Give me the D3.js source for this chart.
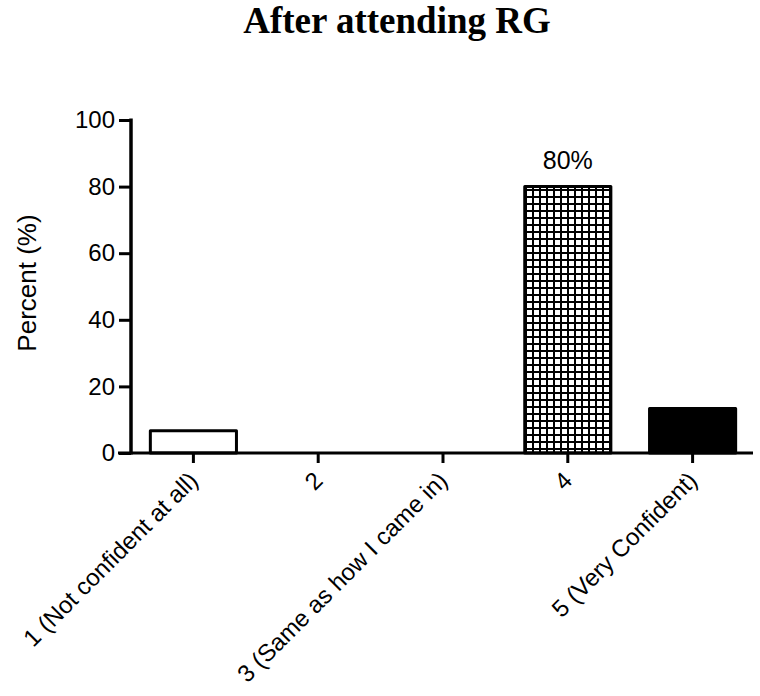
<!DOCTYPE html>
<html><head><meta charset="utf-8">
<script src="https://cdn.jsdelivr.net/npm/d3@7"></script>
<style>body{margin:0;background:#fff}</style>
</head><body>
<svg id="c" width="760" height="696"></svg>
<script>
const categories = ["1 (Not confident at all)", "2", "3 (Same as how I came in)", "4", "5 (Very Confident)"];
const values = [6.67, 0, 0, 80, 13.33];
const fills = ["white", "white", "white", "hatch", "black"];
const yTicks = [0, 20, 40, 60, 80, 100];
const annotations = [{cat: "4", text: "80%"}];
const title = "After attending RG";
const yLabel = "Percent (%)";

const sans = "Liberation Sans, Arial, sans-serif";
const svg = d3.select("#c");
const defs = svg.append("defs");
const pat = defs.append("pattern").attr("id", "hatch").attr("patternUnits", "userSpaceOnUse")
  .attr("width", 7).attr("height", 7);
pat.append("rect").attr("width", 7).attr("height", 7).attr("fill", "white");
pat.append("rect").attr("x", 0).attr("y", 0).attr("width", 2).attr("height", 7).attr("fill", "black");
pat.append("rect").attr("x", 0).attr("y", 0).attr("width", 7).attr("height", 2).attr("fill", "black");

const x = d3.scaleBand().domain(categories).range([131, 755]).paddingInner(0.31).paddingOuter(0.155);
const y = d3.scaleLinear().domain([0, 100]).range([453, 120]);

svg.append("text").attr("x", 397).attr("y", 33).attr("text-anchor", "middle")
  .attr("font-family", "Liberation Serif, Times New Roman, serif").attr("font-weight", "bold")
  .attr("font-size", 37).text(title);

// bars
svg.append("g").selectAll("rect").data(categories.map((c, i) => ({c, v: values[i], f: fills[i]})).filter(d => d.v > 0))
  .join("rect")
  .attr("x", d => x(d.c)).attr("width", x.bandwidth())
  .attr("y", d => y(d.v)).attr("height", d => y(0) - y(d.v))
  .attr("fill", d => d.f === "hatch" ? "url(#hatch)" : d.f)
  .attr("stroke", "black").attr("stroke-width", 3).attr("stroke-linejoin", "round");

// y axis
const ya = svg.append("g").attr("transform", "translate(131,0)")
  .call(d3.axisLeft(y).tickValues(yTicks).tickSize(12).tickSizeOuter(0).tickPadding(4));
ya.select(".domain").attr("stroke-width", 3.5).attr("d", `M0,${y(100)-1.5}V${y(0)+1.5}`);
ya.selectAll(".tick line").attr("stroke-width", 3);
ya.selectAll("text").attr("font-family", sans).attr("font-size", 24).attr("fill", "black");

// x axis
const xa = svg.append("g").attr("transform", `translate(0,${y(0)})`)
  .call(d3.axisBottom(x).tickSize(10).tickSizeOuter(0));
xa.select(".domain").attr("stroke-width", 3).attr("d", "M118,0H753");
xa.selectAll(".tick line").attr("stroke-width", 3);
xa.selectAll("text").attr("font-family", sans).attr("font-size", 24).attr("fill", "black")
  .attr("text-anchor", "end").attr("x", 0).attr("y", 0).attr("dy", 0)
  .attr("transform", "translate(6,29) rotate(-45)");

// y label
svg.append("text").attr("transform", "translate(36,283) rotate(-90)").attr("text-anchor", "middle")
  .attr("font-family", sans).attr("font-size", 26).text(yLabel);

// annotations
svg.append("g").selectAll("text").data(annotations).join("text")
  .attr("x", d => x(d.cat) + x.bandwidth() / 2)
  .attr("y", d => y(values[categories.indexOf(d.cat)]) - 18)
  .attr("text-anchor", "middle").attr("font-family", sans).attr("font-size", 25)
  .text(d => d.text);
</script>
</body></html>
